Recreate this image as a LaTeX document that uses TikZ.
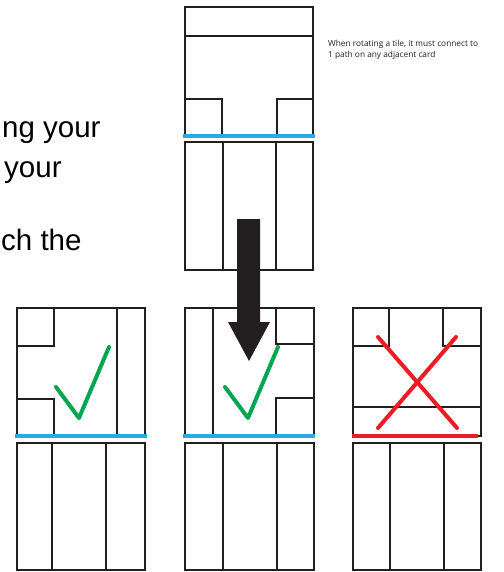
\documentclass[tikz,border=0pt]{standalone}
\usepackage{fontspec}
\setmainfont{Liberation Sans}
\newfontfamily\smallfont{Open Sans}
\definecolor{ink}{HTML}{231F20}
\definecolor{bluebar}{HTML}{29ABE2}
\definecolor{okgreen}{HTML}{00A651}
\definecolor{badred}{HTML}{ED1C24}
\begin{document}
\begin{tikzpicture}[x=1pt,y=-1pt,
  tileline/.style={draw=ink,line width=2.4pt},
  joinbar/.style={line width=4.5pt},
  markline/.style={line width=4pt,line cap=round,line join=round},
  bigtext/.style={font=\fontsize{29.5}{34}\selectfont,anchor=base west,inner sep=0pt,text=black},
  notetext/.style={font=\smallfont\fontsize{8.3}{10.5}\selectfont,anchor=base west,inner sep=0pt,text=ink}]
\useasboundingbox (0,0) rectangle (503,572);
\fill[white] (0,0) rectangle (503,572);

% text at left
\node[bigtext] (t1) at (2,138) {ng your};
\node[bigtext] (t2) at (4,178) {your};
\node[bigtext] (t3) at (1,250) {ch the};

% note
\node[notetext] (note1) at (328,47) {When rotating a tile, it must connect to};
\node[notetext] (note2) at (328,58) {1 path on any adjacent card};

% ---- top card ----
\draw[tileline] (185,7) rectangle (313,136);
\draw[tileline] (185,36) -- (313,36);
\draw[tileline] (185,99) -- (222,99) -- (222,136);
\draw[tileline] (313,99) -- (277,99) -- (277,136);
\draw[tileline] (185,142) rectangle (313,270);
\draw[tileline] (223,142) -- (223,270);
\draw[tileline] (276,142) -- (276,270);
\draw[joinbar,bluebar] (183,136) -- (315,136);

% ---- left card ----
\draw[tileline] (17,308) rectangle (145,436);
\draw[tileline] (17,346) -- (54,346) -- (54,308);
\draw[tileline] (17,399) -- (54,399) -- (54,436);
\draw[tileline] (117,308) -- (117,436);
\draw[tileline] (17,443) rectangle (145,570);
\draw[tileline] (52,443) -- (52,570);
\draw[tileline] (106,443) -- (106,570);
\draw[joinbar,bluebar] (15,436) -- (147,436);
\draw[markline,okgreen] (56,387) -- (79,418) -- (109,347);

% ---- middle card ----
\draw[tileline] (185,308) rectangle (314,436);
\draw[tileline] (213,308) -- (213,436);
\draw[tileline] (314,344) -- (276,344) -- (276,308);
\draw[tileline] (314,398) -- (276,398) -- (276,436);
\draw[tileline] (185,443) rectangle (314,570);
\draw[tileline] (223,443) -- (223,570);
\draw[tileline] (277,443) -- (277,570);
\draw[joinbar,bluebar] (183,436) -- (315,436);
\draw[markline,okgreen] (225,387) -- (248,418) -- (278,347);

% ---- right card ----
\draw[tileline] (353,308) rectangle (481,436);
\draw[tileline] (353,346) -- (389,346) -- (389,308);
\draw[tileline] (481,346) -- (443,346) -- (443,308);
\draw[tileline] (353,407) -- (481,407);
\draw[tileline] (353,443) rectangle (481,570);
\draw[tileline] (390,443) -- (390,570);
\draw[tileline] (444,443) -- (444,570);
\draw[joinbar,badred] (352,436) -- (478,436);
\draw[markline,badred] (378,337) -- (457,428);
\draw[markline,badred] (456,337) -- (378,428);

% ---- arrow ----
\fill[ink] (237,219) -- (260,219) -- (260,322) -- (270,322) -- (249,361) -- (228,322) -- (237,322) -- cycle;
\end{tikzpicture}
\end{document}
